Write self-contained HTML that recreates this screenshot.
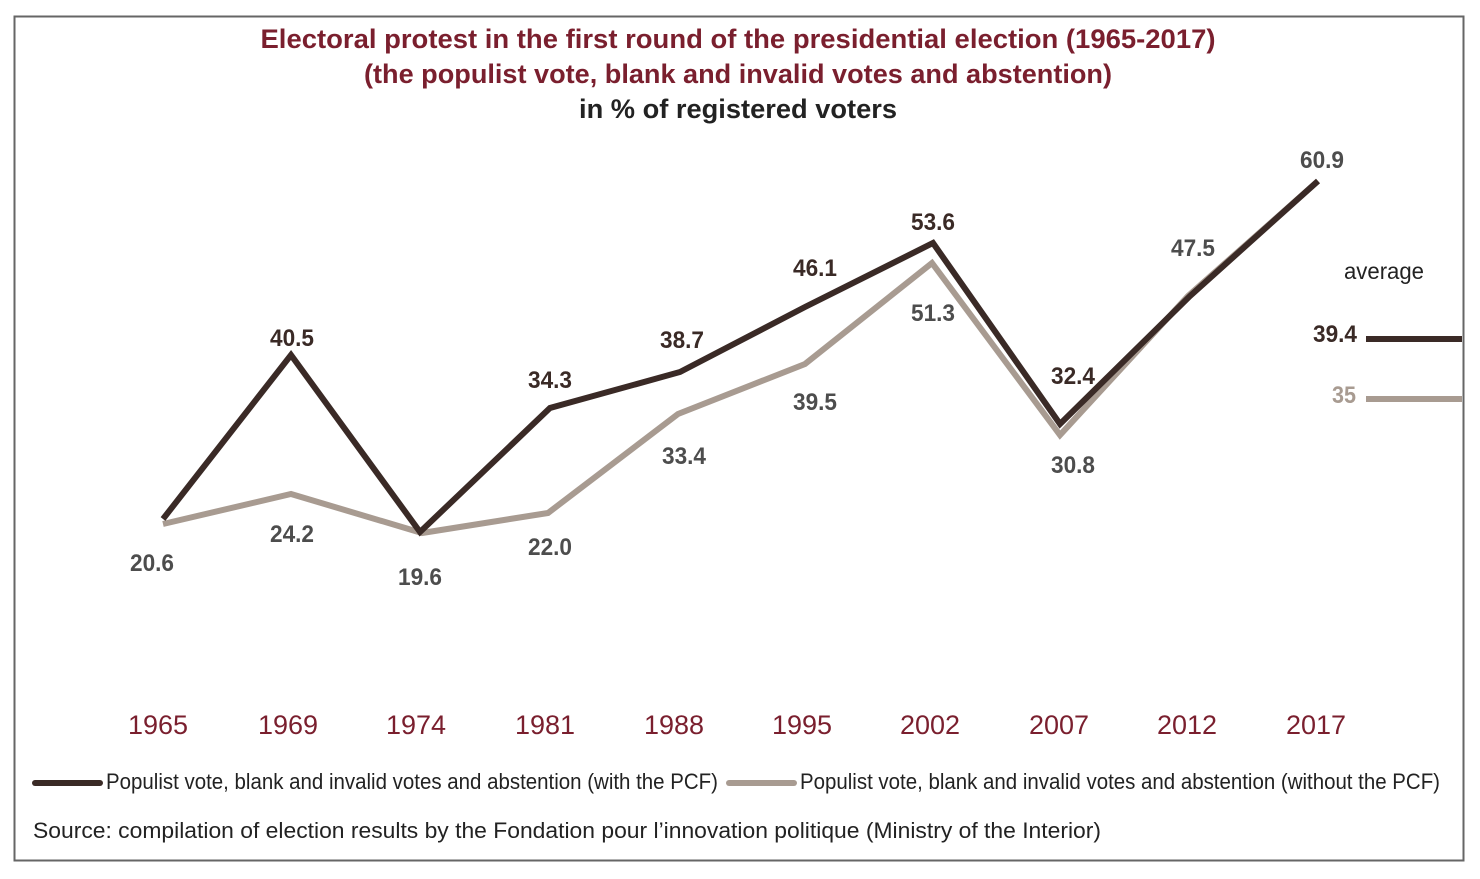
<!DOCTYPE html>
<html><head><meta charset="utf-8"><style>
body{margin:0;background:#fff;}
svg text{font-family:"Liberation Sans Narrow","Liberation Sans",sans-serif;}
</style></head><body>
<svg width="1480" height="874" viewBox="0 0 1480 874" xmlns="http://www.w3.org/2000/svg">
<rect x="14.5" y="16.5" width="1449" height="844" fill="#fff" stroke="#666" stroke-width="2"/>
<g font-weight="bold" font-size="27" text-anchor="middle">
<text x="738" y="48" fill="#7a1f2e" textLength="955" lengthAdjust="spacingAndGlyphs">Electoral protest in the first round of the presidential election (1965-2017)</text>
<text x="738" y="83" fill="#7a1f2e" textLength="748" lengthAdjust="spacingAndGlyphs">(the populist vote, blank and invalid votes and abstention)</text>
<text x="738" y="118" fill="#222" textLength="318" lengthAdjust="spacingAndGlyphs">in % of registered voters</text>
</g>
<polyline fill="none" stroke="#a89b91" stroke-width="6" stroke-linejoin="miter" points="163,524 291,494 422,533 548,513 678,414 805,364 932,263 1060,435 1188,296 1318,181"/>
<polyline fill="none" stroke="#3a2a26" stroke-width="6" stroke-linejoin="miter" points="163,519 291,355 420,532 550,408 680,372 805,307 933,243 1060,424 1190,296 1318,181"/>
<line x1="1366" y1="339" x2="1462" y2="339" stroke="#3a2a26" stroke-width="6" stroke-linecap="butt"/>
<line x1="1366" y1="399" x2="1462" y2="399" stroke="#a89b91" stroke-width="6" stroke-linecap="butt"/>
<g font-weight="bold" font-size="24" text-anchor="middle" fill="#3a2a26">
<text x="292" y="346" textLength="44" lengthAdjust="spacingAndGlyphs">40.5</text><text x="550" y="388" textLength="44" lengthAdjust="spacingAndGlyphs">34.3</text><text x="682" y="348" textLength="44" lengthAdjust="spacingAndGlyphs">38.7</text>
<text x="815" y="276" textLength="44" lengthAdjust="spacingAndGlyphs">46.1</text><text x="933" y="230" textLength="44" lengthAdjust="spacingAndGlyphs">53.6</text><text x="1073" y="384" textLength="44" lengthAdjust="spacingAndGlyphs">32.4</text>
<text x="1335" y="342" textLength="44" lengthAdjust="spacingAndGlyphs">39.4</text>
</g>
<g font-weight="bold" font-size="24" text-anchor="middle" fill="#4d4d4d">
<text x="152" y="571" textLength="44" lengthAdjust="spacingAndGlyphs">20.6</text><text x="292" y="542" textLength="44" lengthAdjust="spacingAndGlyphs">24.2</text><text x="420" y="585" textLength="44" lengthAdjust="spacingAndGlyphs">19.6</text>
<text x="550" y="555" textLength="44" lengthAdjust="spacingAndGlyphs">22.0</text><text x="684" y="464" textLength="44" lengthAdjust="spacingAndGlyphs">33.4</text><text x="815" y="410" textLength="44" lengthAdjust="spacingAndGlyphs">39.5</text>
<text x="933" y="321" textLength="44" lengthAdjust="spacingAndGlyphs">51.3</text><text x="1073" y="473" textLength="44" lengthAdjust="spacingAndGlyphs">30.8</text><text x="1193" y="256" textLength="44" lengthAdjust="spacingAndGlyphs">47.5</text>
<text x="1322" y="168" textLength="44" lengthAdjust="spacingAndGlyphs">60.9</text>
</g>
<text x="1344" y="403" font-weight="bold" font-size="24" text-anchor="middle" fill="#a89b91" textLength="24" lengthAdjust="spacingAndGlyphs">35</text>
<text x="1384" y="279" font-size="23" text-anchor="middle" fill="#222" textLength="80" lengthAdjust="spacingAndGlyphs">average</text>
<g font-size="27" text-anchor="middle" fill="#7a1f2e">
<text x="158" y="734">1965</text><text x="288" y="734">1969</text><text x="416" y="734">1974</text>
<text x="545" y="734">1981</text><text x="674" y="734">1988</text><text x="802" y="734">1995</text>
<text x="930" y="734">2002</text><text x="1059" y="734">2007</text><text x="1187" y="734">2012</text>
<text x="1316" y="734">2017</text>
</g>
<line x1="35" y1="783" x2="100" y2="783" stroke="#3a2a26" stroke-width="6" stroke-linecap="round"/>
<line x1="729" y1="783" x2="794" y2="783" stroke="#a89b91" stroke-width="6" stroke-linecap="round"/>
<g font-size="22" fill="#222">
<text x="106" y="789" textLength="612" lengthAdjust="spacingAndGlyphs">Populist vote, blank and invalid votes and abstention (with the PCF)</text>
<text x="800" y="789" textLength="640" lengthAdjust="spacingAndGlyphs">Populist vote, blank and invalid votes and abstention (without the PCF)</text>
<text x="33" y="838" textLength="1068" lengthAdjust="spacingAndGlyphs">Source:  compilation of election results by the Fondation pour l’innovation politique (Ministry of the Interior)</text>
</g>
</svg>
</body></html>
